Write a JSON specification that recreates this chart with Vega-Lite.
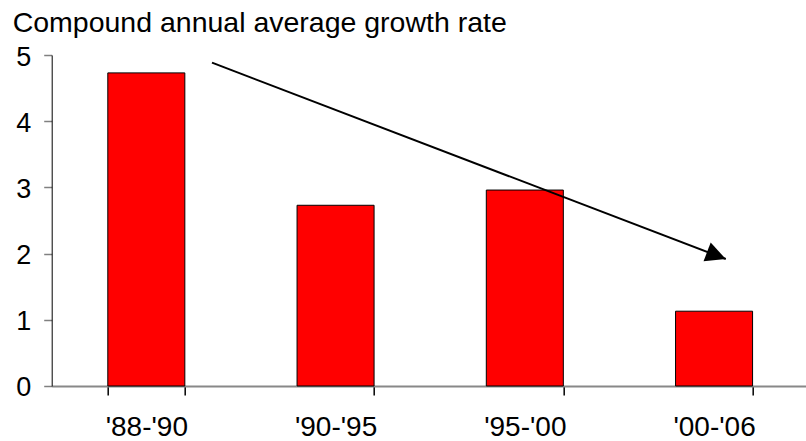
{
  "$schema": "https://vega.github.io/schema/vega-lite/v6.json",
  "autosize": "none",
  "padding": {"left": 51.7, "top": 55, "right": 0, "bottom": 55},
  "width": 757,
  "height": 331,
  "background": "white",
  "title": {
    "text": "Compound annual average growth rate",
    "anchor": "start",
    "frame": "bounds",
    "dx": -3,
    "offset": 6,
    "fontSize": 28.5,
    "font": "Liberation Sans",
    "fontWeight": "normal",
    "color": "black"
  },
  "datasets": {
    "bars": [
      {"period": "'88-'90", "rate": 4.73},
      {"period": "'90-'95", "rate": 2.73},
      {"period": "'95-'00", "rate": 2.96},
      {"period": "'00-'06", "rate": 1.13}
    ],
    "arrow": [
      {"x1": 0.847, "y1": 4.884, "x2": 3.562, "y2": 1.918}
    ]
  },
  "layer": [
    {
      "data": {"name": "bars"},
      "mark": {"type": "bar", "color": "#FF0000", "stroke": "black", "strokeWidth": 1},
      "encoding": {
        "x": {
          "field": "period",
          "type": "nominal",
          "sort": null,
          "scale": {"paddingInner": 0.593, "paddingOuter": 0.2965},
          "axis": {
            "title": null,
            "labelAngle": 0,
            "labelFont": "Liberation Sans",
            "labelFontSize": 28,
            "labelColor": "black",
            "labelPadding": 19,
            "tickBand": "extent",
            "tickColor": "black",
            "tickSize": 9,
            "tickWidth": 1.5,
            "domainColor": "#888888",
            "domainWidth": 2,
            "grid": false
          }
        },
        "y": {
          "field": "rate",
          "type": "quantitative",
          "scale": {"domain": [0, 5], "nice": false},
          "axis": {
            "title": null,
            "values": [0, 1, 2, 3, 4, 5],
            "format": "d",
            "labelFont": "Liberation Sans",
            "labelFontSize": 27,
            "labelColor": "black",
            "labelPadding": 13,
            "labelOffset": 2,
            "tickColor": "#808080",
            "tickSize": 8,
            "tickWidth": 1.5,
            "domainColor": "black",
            "domainWidth": 1,
            "grid": false
          }
        }
      }
    },
    {
      "data": {"name": "arrow"},
      "mark": {"type": "rule", "color": "black", "strokeWidth": 2},
      "encoding": {
        "x": {"field": "x1", "type": "quantitative", "scale": {"domain": [0, 4]}, "axis": null},
        "x2": {"field": "x2"},
        "y": {"field": "y1", "type": "quantitative"},
        "y2": {"field": "y2"}
      }
    },
    {
      "data": {"name": "arrow"},
      "mark": {
        "type": "point",
        "shape": "M0,0 L-2,-1 L-2,1 Z",
        "filled": true,
        "color": "black",
        "opacity": 1,
        "size": 400,
        "angle": 20.9
      },
      "encoding": {
        "x": {"field": "x2", "type": "quantitative", "scale": {"domain": [0, 4]}, "axis": null},
        "y": {"field": "y2", "type": "quantitative"}
      }
    }
  ],
  "resolve": {"scale": {"x": "independent"}},
  "config": {"view": {"stroke": null}}
}
